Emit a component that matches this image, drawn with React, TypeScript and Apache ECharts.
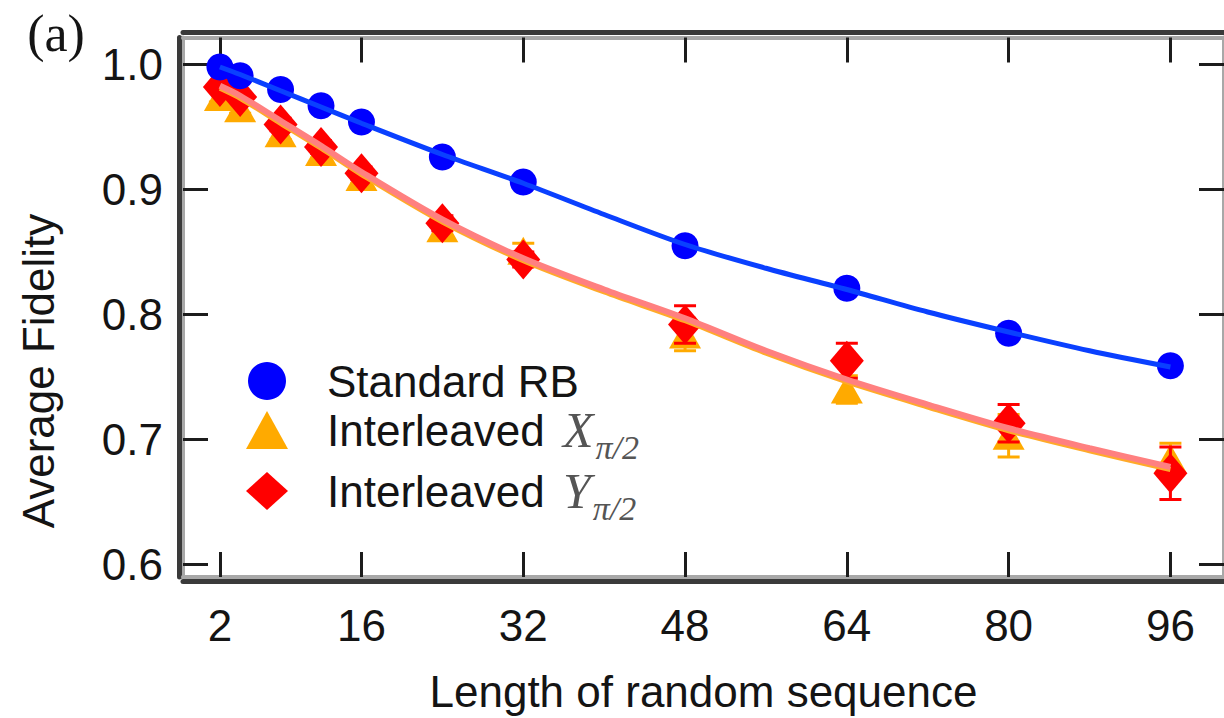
import React, { useEffect, useRef } from 'react';
import * as echarts from 'echarts';

// ---- data ----
const lengths = [2, 4, 8, 12, 16, 24, 32, 48, 64, 80, 96];
const rbFidelity = [0.998, 0.991, 0.980, 0.967, 0.954, 0.926, 0.906, 0.855, 0.821, 0.785, 0.759];
const xFidelity = [0.974, 0.965, 0.945, 0.930, 0.910, 0.869, 0.851, 0.784, 0.740, 0.703, 0.685];
const xError = [0.004, 0.004, 0.005, 0.005, 0.005, 0.006, 0.006, 0.013, 0.011, 0.017, 0.012];
const yFidelity = [0.982, 0.974, 0.952, 0.934, 0.913, 0.873, 0.844, 0.792, 0.763, 0.713, 0.673];
const yError = [0.004, 0.004, 0.005, 0.005, 0.005, 0.006, 0.006, 0.015, 0.014, 0.015, 0.021];

const fitLengths = [2, 4, 8, 12, 16, 24, 32, 40, 48, 56, 64, 72, 80, 88, 96];
const rbFit = [0.998, 0.992, 0.979, 0.966, 0.953, 0.928, 0.905, 0.880, 0.856, 0.837, 0.820, 0.802, 0.786, 0.771, 0.758];
const yFit = [0.983, 0.975, 0.955, 0.935, 0.914, 0.876, 0.845, 0.820, 0.797, 0.771, 0.748, 0.728, 0.709, 0.693, 0.678];
const xFit = [0.981, 0.973, 0.953, 0.933, 0.912, 0.874, 0.843, 0.818, 0.795, 0.769, 0.746, 0.726, 0.707, 0.691, 0.676];

const xTicks = [2, 16, 32, 48, 64, 80, 96];
const yTicks = [0.6, 0.7, 0.8, 0.9, 1.0];

const X_MIN = -1.65;
const X_MAX = 101.3;
const Y_MIN = 0.59;
const Y_MAX = 1.0216;

const FONT = "'Liberation Sans', Arial, sans-serif";
const SERIF = "'Liberation Serif', 'Times New Roman', serif";
const TEXT = '#141414';
const DARK = '#3a3a3a';
const GRAY = '#a8a8a8';
const BLUE = '#0000ff';
const BLUE_LINE = '#0a40ff';
const RED = '#ff0000';
const ORANGE = '#ffaa00';

const NAME_RB = 'Standard RB';
const NAME_X = 'Interleaved X';
const NAME_Y = 'Interleaved Y';

function pairs(xs: number[], ys: number[]) {
  return xs.map((x, i) => [x, ys[i]]);
}
function bars(xs: number[], ys: number[], es: number[]) {
  return xs.map((x, i) => [x, ys[i] - es[i], ys[i] + es[i]]);
}

function errorBarRenderer(color: string) {
  return (params: any, api: any) => {
    const x = api.value(0);
    const top = api.coord([x, api.value(2)]);
    const bot = api.coord([x, api.value(1)]);
    const hw = 11;
    const style = { stroke: color, lineWidth: 3 };
    return {
      type: 'group',
      children: [
        { type: 'line', shape: { x1: top[0], y1: top[1], x2: bot[0], y2: bot[1] }, style },
        { type: 'line', shape: { x1: top[0] - hw, y1: top[1], x2: top[0] + hw, y2: top[1] }, style },
        { type: 'line', shape: { x1: bot[0] - hw, y1: bot[1], x2: bot[0] + hw, y2: bot[1] }, style },
      ],
    };
  };
}

const tickStyle = { color: '#1c1c1c', width: 3 };

function mainX(position: 'bottom' | 'top', labels: boolean) {
  return {
    type: 'value',
    position,
    min: X_MIN,
    max: X_MAX,
    axisLine: { show: true, onZero: false, lineStyle: { color: GRAY, width: 4 } },
    axisTick: { show: true, inside: true, length: 25, customValues: xTicks, lineStyle: tickStyle },
    axisLabel: {
      show: labels,
      customValues: xTicks,
      margin: 26,
      fontSize: 44,
      fontFamily: FONT,
      color: TEXT,
    },
    splitLine: { show: false },
    ...(labels
      ? {
          name: 'Length of random sequence',
          nameLocation: 'middle',
          nameGap: 92,
          nameTextStyle: { fontSize: 44, fontFamily: FONT, color: TEXT },
        }
      : {}),
  };
}
function frameX(position: 'bottom' | 'top', offset: number) {
  return {
    type: 'value',
    position,
    offset,
    min: X_MIN,
    max: X_MAX,
    axisLine: { show: true, onZero: false, lineStyle: { color: DARK, width: 5 } },
    axisTick: { show: false },
    axisLabel: { show: false },
    splitLine: { show: false },
  };
}
function mainY(position: 'left' | 'right', labels: boolean) {
  return {
    type: 'value',
    position,
    min: Y_MIN,
    max: Y_MAX,
    axisLine: { show: true, onZero: false, lineStyle: { color: GRAY, width: 4 } },
    axisTick: { show: true, inside: true, length: 25, customValues: yTicks, lineStyle: tickStyle },
    axisLabel: {
      show: labels,
      customValues: yTicks,
      margin: 20,
      fontSize: 44,
      fontFamily: FONT,
      color: TEXT,
      formatter: (v: number) => v.toFixed(1),
    },
    splitLine: { show: false },
  };
}
function frameY(position: 'left' | 'right', offset: number) {
  return {
    type: 'value',
    position,
    offset,
    min: Y_MIN,
    max: Y_MAX,
    axisLine: { show: true, onZero: false, lineStyle: { color: DARK, width: 5 } },
    axisTick: { show: false },
    axisLabel: { show: false },
    splitLine: { show: false },
  };
}

const mathColor = '#555555';

const option: any = {
  animation: false,
  backgroundColor: '#ffffff',
  grid: { left: 183, top: 37.5, width: 1044, height: 539.5, containLabel: false },
  xAxis: [mainX('bottom', true), mainX('top', false), frameX('bottom', 4), frameX('top', 5)],
  yAxis: [mainY('left', true), mainY('right', false), frameY('left', 4), frameY('right', 4)],
  legend: {
    show: true,
    orient: 'vertical',
    left: 241,
    top: 354,
    itemWidth: 42,
    itemHeight: 38,
    itemGap: 2,
    data: [NAME_RB, NAME_X, NAME_Y],
    formatter: (name: string) => {
      if (name === NAME_RB) return '{t|Standard RB}';
      if (name === NAME_X) return '{t|Interleaved }{m|X}{s|π/2}';
      return '{t|Interleaved }{m|Y}{s|π/2}';
    },
    textStyle: {
      rich: {
        t: { fontSize: 44, fontFamily: FONT, color: TEXT, lineHeight: 68, padding: [0, 0, 0, 34] },
        m: { fontSize: 50, fontFamily: SERIF, fontStyle: 'italic', color: mathColor, lineHeight: 68, padding: [0, 2, 0, 6] },
        s: { fontSize: 34, fontFamily: SERIF, fontStyle: 'italic', color: mathColor, lineHeight: 36, verticalAlign: 'bottom' },
      },
    },
  },
  graphic: [
    {
      type: 'text',
      x: 56,
      y: 33,
      style: { text: '(a)', fontSize: 52, fontFamily: SERIF, fill: TEXT, align: 'center', verticalAlign: 'middle' },
    },
    {
      type: 'text',
      x: 38,
      y: 371,
      rotation: Math.PI / 2,
      style: { text: 'Average Fidelity', fontSize: 44, fontFamily: FONT, fill: TEXT, align: 'center', verticalAlign: 'middle' },
    },
  ],
  series: [
    {
      type: 'custom',
      name: 'X error',
      z: 2,
      renderItem: errorBarRenderer(ORANGE),
      encode: { x: 0, y: [1, 2] },
      data: bars(lengths, xFidelity, xError),
    },
    {
      type: 'scatter',
      name: NAME_X,
      z: 3,
      symbol: 'triangle',
      symbolSize: [32, 28],
      itemStyle: { color: ORANGE, opacity: 1 },
      data: pairs(lengths, xFidelity),
    },
    {
      type: 'custom',
      name: 'Y error',
      z: 4,
      renderItem: errorBarRenderer(RED),
      encode: { x: 0, y: [1, 2] },
      data: bars(lengths, yFidelity, yError),
    },
    {
      type: 'scatter',
      name: NAME_Y,
      z: 5,
      symbol: 'diamond',
      symbolSize: [34, 40],
      itemStyle: { color: RED, opacity: 1 },
      data: pairs(lengths, yFidelity),
    },
    {
      type: 'line',
      name: 'X fit',
      z: 6,
      smooth: 0.3,
      symbol: 'none',
      lineStyle: { color: '#ffaa2a', width: 5 },
      data: pairs(fitLengths, xFit),
    },
    {
      type: 'line',
      name: 'Y fit',
      z: 7,
      smooth: 0.3,
      symbol: 'none',
      lineStyle: { color: '#ff8080', width: 6 },
      data: pairs(fitLengths, yFit),
    },
    {
      type: 'scatter',
      name: NAME_RB,
      z: 8,
      symbol: 'circle',
      symbolSize: 27,
      itemStyle: { color: BLUE, opacity: 1 },
      data: pairs(lengths, rbFidelity),
    },
    {
      type: 'line',
      name: 'RB fit',
      z: 9,
      smooth: 0.3,
      symbol: 'none',
      lineStyle: { color: BLUE_LINE, width: 5 },
      data: pairs(fitLengths, rbFit),
    },
  ],
};

export default function App() {
  const ref = useRef<HTMLDivElement>(null);
  useEffect(() => {
    if (!ref.current) return;
    const chart = echarts.init(ref.current, null, { renderer: 'svg' });
    chart.setOption(option);
    return () => chart.dispose();
  }, []);
  return (
    <div
      ref={ref}
      style={{ position: 'absolute', left: 0, top: 0, width: 1224, height: 718, background: '#ffffff' }}
    />
  );
}
